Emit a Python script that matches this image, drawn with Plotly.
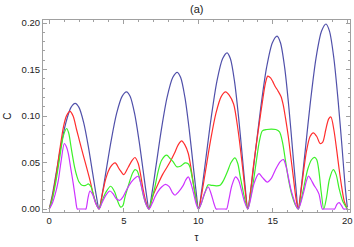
import plotly.graph_objects as go

# ---------------- data ----------------
blue_tau = [0, 0.208, 0.452, 0.764, 1.112, 1.459, 1.737, 1.993, 2.314, 2.635, 2.923, 3.148, 3.34,
            3.561, 3.819, 4.151, 4.519, 4.888, 5.183, 5.424, 5.725, 6.027, 6.298, 6.509, 6.69,
            6.918, 7.183, 7.525, 7.905, 8.285, 8.588, 8.818, 9.104, 9.390, 9.647, 9.847, 10.02,
            10.250, 10.518, 10.862, 11.245, 11.628, 11.934, 12.156, 12.433, 12.710, 12.960, 13.154, 13.32,
            13.556, 13.831, 14.185, 14.578, 14.972, 15.286, 15.514, 15.799, 16.084, 16.340, 16.539, 16.71,
            16.933, 17.193, 17.528, 17.900, 18.272, 18.569, 18.803, 19.095, 19.387, 19.650, 19.855, 20.0]
blue_c = [0, 0.0152, 0.0375, 0.0661, 0.0927, 0.1093, 0.1136, 0.1093, 0.0927, 0.0661, 0.0375, 0.0152, 0,
          0.0169, 0.0416, 0.0733, 0.1028, 0.1212, 0.126, 0.1212, 0.1028, 0.0733, 0.0416, 0.0169, 0,
          0.0197, 0.0485, 0.0856, 0.1200, 0.1414, 0.147, 0.1414, 0.1200, 0.0856, 0.0485, 0.0197, 0,
          0.0225, 0.0554, 0.0978, 0.1371, 0.1616, 0.168, 0.1616, 0.1371, 0.0978, 0.0554, 0.0225, 0,
          0.0249, 0.0614, 0.1083, 0.1518, 0.1789, 0.186, 0.1789, 0.1518, 0.1083, 0.0614, 0.0249, 0,
          0.0267, 0.0657, 0.1158, 0.1624, 0.1914, 0.199, 0.1914, 0.1624, 0.1158, 0.0657, 0.024, 0.002]

red_tau = [0, 0.2, 0.45, 0.7, 0.95, 1.15, 1.39, 1.6, 1.84, 2.05, 2.28, 2.5, 2.73, 2.95, 3.15, 3.34,
           3.55, 3.8, 4.1, 4.42, 4.7, 5.0, 5.3, 5.55, 5.75, 5.97, 6.15, 6.31, 6.5, 6.69,
           6.85, 7.0, 7.3, 7.6, 7.9, 8.15, 8.4, 8.65, 8.88, 9.1, 9.33, 9.55, 9.78, 10.02,
           10.238, 10.492, 10.819, 11.182, 11.545, 11.835, 12.073, 12.37, 12.667, 12.934, 13.142, 13.32,
           13.5, 13.69, 13.9, 14.1, 14.3, 14.5, 14.66, 14.85, 15.0, 15.15, 15.35, 15.55, 15.7, 15.85,
           16.04, 16.2, 16.38, 16.55, 16.71,
           16.9, 17.1, 17.27, 17.5, 17.72, 17.95, 18.17, 18.35, 18.55, 18.75, 18.9, 19.1, 19.29, 19.45,
           19.62, 19.8, 20.0]
red_c = [0, 0.012, 0.035, 0.063, 0.088, 0.1, 0.105, 0.1, 0.085, 0.072, 0.058, 0.045, 0.031, 0.016, 0.005, 0,
         0.015, 0.033, 0.045, 0.0496, 0.043, 0.037, 0.045, 0.052, 0.0554, 0.049, 0.035, 0.02, 0.007, 0,
         0.008, 0.016, 0.027, 0.037, 0.045, 0.052, 0.06, 0.069, 0.0733, 0.069, 0.0597, 0.04, 0.0166, 0,
         0.0169, 0.0416, 0.0733, 0.1028, 0.1212, 0.126, 0.1225, 0.113, 0.085, 0.05, 0.02, 0,
         0.018, 0.045, 0.07, 0.093, 0.115, 0.135, 0.143, 0.141, 0.137, 0.132, 0.127, 0.121, 0.112, 0.098,
         0.078, 0.057, 0.034, 0.012, 0,
         0.02, 0.045, 0.063, 0.078, 0.082, 0.078, 0.0705, 0.072, 0.085, 0.097, 0.099, 0.085, 0.063, 0.043,
         0.024, 0.008, 0]

green_tau = [0, 0.2, 0.45, 0.7, 0.95, 1.17, 1.3, 1.5, 1.7, 1.84, 2.0, 2.2, 2.45, 2.62, 2.8, 3.0, 3.2, 3.34,
             3.55, 3.8, 4.12, 4.4, 4.6, 4.8, 4.95, 5.08, 5.25, 5.42, 5.6, 5.75, 5.9, 6.05, 6.31, 6.5, 6.69,
             6.9, 7.09, 7.3, 7.54, 7.88, 8.1, 8.32, 8.55, 8.8, 9.11, 9.3, 9.44, 9.6, 9.78, 9.9, 10.02,
             10.2, 10.45, 10.67, 10.9, 11.2, 11.46, 11.7, 11.95, 12.2, 12.46, 12.65, 12.8, 12.91, 13.1, 13.32,
             13.5, 13.7, 13.9, 14.1, 14.3, 14.6, 14.9, 15.2, 15.45, 15.65, 15.85, 16.05, 16.3, 16.5, 16.71,
             16.9, 17.1, 17.35, 17.6, 17.8, 17.95, 18.1, 18.25, 18.42, 18.6, 18.8, 19.06, 19.25, 19.45,
             19.7, 20.0]
green_c = [0, 0.01, 0.03, 0.055, 0.079, 0.0866, 0.082, 0.063, 0.045, 0.036, 0.029, 0.0255, 0.0255, 0.027, 0.024,
           0.013, 0.004, 0,
           0.009, 0.018, 0.0245, 0.018, 0.008, 0.002, 0.004, 0.0129, 0.022, 0.031, 0.039, 0.0424, 0.041, 0.034,
           0.0148, 0.005, 0,
           0.012, 0.0237, 0.04, 0.0525, 0.0579, 0.0545, 0.0507, 0.0455, 0.046, 0.0496, 0.049, 0.0453, 0.033,
           0.0166, 0.006, 0,
           0.006, 0.018, 0.026, 0.0255, 0.025, 0.0255, 0.031, 0.04, 0.05, 0.055, 0.049, 0.036, 0.027, 0.012, 0,
           0.012, 0.03, 0.052, 0.073, 0.084, 0.0855, 0.086, 0.0855, 0.083, 0.072, 0.052, 0.032, 0.014, 0.005, 0,
           0.01, 0.025, 0.043, 0.053, 0.0555, 0.053, 0.04, 0.018, 0.0, 0.012, 0.032, 0.0424, 0.037, 0.022,
           0.008, 0]

purple_tau = [0, 0.2, 0.4, 0.6, 0.8, 1.01, 1.15, 1.28, 1.45, 1.61, 1.75, 1.88, 1.95, 2.4, 2.46, 2.6, 2.73, 2.9,
              3.1, 3.34,
              3.55, 3.8, 4.07, 4.3, 4.5, 4.74, 4.95, 5.2, 5.5, 5.8, 5.97, 6.15, 6.35, 6.5, 6.69,
              6.9, 7.09, 7.3, 7.54, 7.8, 8.05, 8.25, 8.44, 8.65, 8.99, 9.15, 9.33, 9.5, 9.69, 9.85, 10.02,
              10.2, 10.4, 10.67, 10.85, 11.05, 11.2, 11.3, 11.8, 11.9, 12.05, 12.25, 12.5, 12.7, 12.9, 13.1, 13.32,
              13.5, 13.75, 14.07, 14.3, 14.63, 14.9, 15.2, 15.5, 15.72, 15.9, 16.04, 16.2, 16.38, 16.55, 16.71,
              16.9, 17.1, 17.25, 17.4, 17.55, 17.77, 17.95, 18.1, 18.32, 18.4, 19.05, 19.15, 19.3, 19.45, 19.6,
              19.75, 19.85, 20.0]
purple_c = [0, 0.006, 0.016, 0.03, 0.052, 0.0705, 0.067, 0.0597, 0.043, 0.0273, 0.012, 0, 0, 0, 0, 0.012, 0.0194,
            0.016, 0.007, 0,
            0.007, 0.015, 0.0194, 0.016, 0.011, 0.0094, 0.013, 0.021, 0.029, 0.034, 0.0352, 0.027, 0.013, 0.005, 0,
            0.006, 0.0129, 0.019, 0.0237, 0.0265, 0.024, 0.018, 0.0148, 0.018, 0.0255, 0.031, 0.0345, 0.028,
            0.0166, 0.006, 0,
            0.006, 0.016, 0.0237, 0.017, 0.006, 0, 0, 0, 0, 0.01, 0.025, 0.0345, 0.031, 0.02, 0.008, 0,
            0.01, 0.028, 0.038, 0.034, 0.029, 0.033, 0.043, 0.051, 0.0532, 0.045, 0.0345, 0.022, 0.012, 0.004, 0,
            0.008, 0.02, 0.03, 0.0355, 0.032, 0.0255, 0.021, 0.016, 0, 0, 0, 0, 0.005, 0.0068, 0.004,
            0, 0, 0]

# ---------------- figure ----------------
series = [
    (blue_tau, blue_c, "rgb(80,80,170)"),
    (red_tau, red_c, "rgb(255,45,45)"),
    (green_tau, green_c, "rgb(60,240,40)"),
    (purple_tau, purple_c, "rgb(205,50,255)"),
]

FONT = "Liberation Sans, Arial, sans-serif"

fig = go.Figure()
for tx, cy, col in series:
    fig.add_trace(go.Scatter(x=tx, y=cy, mode="lines",
                             line=dict(color=col, width=1.2, shape="spline", smoothing=0.8),
                             showlegend=False, hoverinfo="skip"))

axis_common = dict(
    showgrid=False, zeroline=False, showline=True, linecolor="#a0a0a0", linewidth=1,
    mirror="allticks", ticks="inside", ticklen=4, tickcolor="#a0a0a0", tickwidth=1,
    ticklabeloverflow="allow",
    tickfont=dict(family=FONT, size=9.5, color="#222"),
)

fig.update_xaxes(**axis_common, range=[-0.42, 20.18], tickvals=[0, 5, 10, 15, 20],
                 minor=dict(dtick=1, tick0=0, ticks="inside", ticklen=2, tickcolor="#a0a0a0"),
                 title=dict(text="τ", font=dict(family=FONT, size=10, color="#222"), standoff=8))
fig.update_yaxes(**axis_common, range=[-0.0032, 0.2033], tickvals=[0, 0.05, 0.10, 0.15, 0.20],
                 tickformat=".2f",
                 minor=dict(dtick=0.01, tick0=0, ticks="inside", ticklen=2, tickcolor="#a0a0a0"),
                 title=dict(text="C", font=dict(family=FONT, size=10, color="#222"), standoff=8))

fig.update_layout(
    width=354, height=247,
    margin=dict(l=43, r=4, t=20, b=35, autoexpand=False),
    paper_bgcolor="white", plot_bgcolor="white",
    annotations=[dict(text="(a)", xref="paper", yref="paper", x=0.5, y=1, yanchor="bottom", yshift=3,
                      showarrow=False, font=dict(family=FONT, size=11, color="#222"))],
)

# remove the default 8px page margin so the figure fills the window exactly
fig.write_html("out.html",
               config={"displayModeBar": False, "staticPlot": True},
               post_script="document.body.style.margin='0';document.body.style.overflow='hidden';")
